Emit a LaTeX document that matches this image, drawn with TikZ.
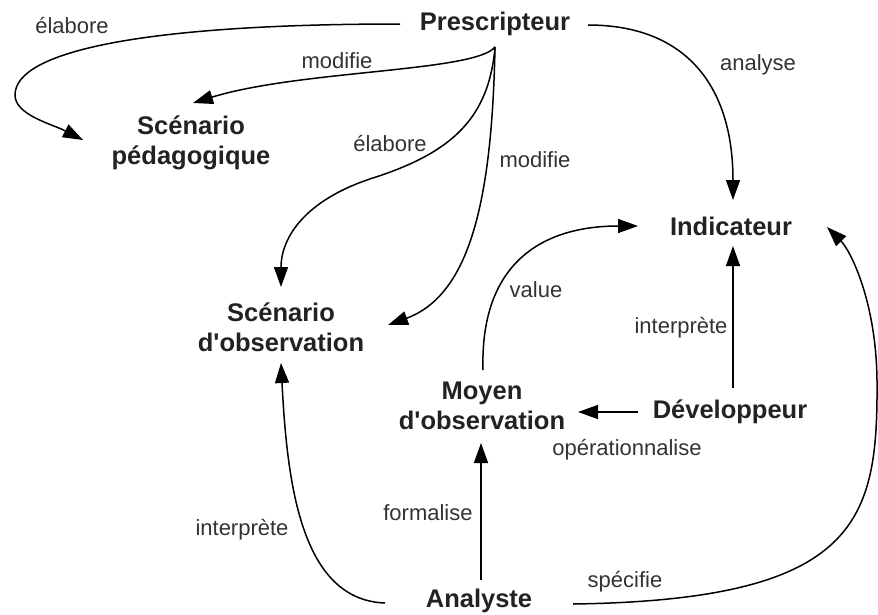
\documentclass[tikz,border=0pt]{standalone}
\usepackage{fontspec}
\setmainfont{Liberation Sans}
\usetikzlibrary{arrows.meta,calc}
\definecolor{nodetext}{HTML}{222222}
\definecolor{labtext}{HTML}{333333}
\begin{document}
\begin{tikzpicture}[x=1pt,y=-1pt,
  ent/.style={inner sep=0pt, align=center, text=nodetext, font=\fontsize{25.5}{30}\selectfont\bfseries},
  lab/.style={inner sep=0pt, text=labtext, font=\fontsize{22}{26}\selectfont},
  link/.style={line width=1.5pt, -{Triangle[length=20pt,width=14pt]}}]
\useasboundingbox (0,0) rectangle (878,614);
\fill[white] (0,0) rectangle (878,614);
% entities
\node[ent] (presc) at (495,24) {Prescripteur};
\node[ent] (scped) at (191,143) {Scénario\\pédagogique};
\node[ent] (scobs) at (281,327) {Scénario\\d\textquotesingle observation};
\node[ent] (indic) at (731,226) {Indicateur};
\node[ent] (moyen) at (482,406) {Moyen\\d\textquotesingle observation};
\node[ent] (dev) at (730,412) {Développeur};
\node[ent] (anal) at (479,601) {Analyste};
% labels
\node[lab] (l1) at (72,26) {élabore};
\node[lab] (l2) at (337,61) {modifie};
\node[lab] (l3) at (390,144) {élabore};
\node[lab] (l4) at (535,160) {modifie};
\node[lab] (l5) at (758,65) {analyse};
\node[lab] (l6) at (536,290) {value};
\node[lab] (l7) at (681,328) {interprète};
\node[lab] (l8) at (627,450) {opérationnalise};
\node[lab] (l9) at (428,513) {formalise};
\node[lab] (l10) at (242,530) {interprète};
\node[lab] (l11) at (625,582) {spécifie};
% connectors
\draw[link] ($(presc)+(-95,0)$) .. controls (150,24) and (15,50) .. (15,95)
   .. controls (15,115) and (52,124) .. ($(scped)+(-108,-3)$);
\draw[link] ($(presc)+(0,23)$) .. controls (475,72) and (300,70) .. ($(scped)+(2,-40)$);
\draw[link] ($(presc)+(0,23)$) .. controls (489,118) and (452,152) .. (376,177)
   .. controls (302,200) and (281,240) .. ($(scobs)+(0,-40)$);
\draw[link] ($(presc)+(0,23)$) .. controls (492,200) and (470,295) .. ($(scobs)+(107,-2)$);
\draw[link] ($(presc)+(93,1)$) .. controls (685,25) and (733,85) .. ($(indic)+(2,-26)$);
\draw[link] ($(moyen)+(1,-36)$) .. controls (480,265) and (540,226) .. ($(indic)+(-93,0)$);
\draw[link] ($(dev)+(3,-24)$) -- ($(indic)+(2,20)$);
\draw[link] ($(dev)+(-92,0)$) -- ($(moyen)+(96,6)$);
\draw[link] ($(anal)+(2,-21)$) -- ($(moyen)+(-1,37)$);
\draw[link] ($(anal)+(-94,2)$) .. controls (300,600) and (287,480) .. ($(scobs)+(0,36)$);
\draw[link] ($(anal)+(94,3)$) .. controls (860,600) and (878,520) .. (877,380)
   .. controls (876,300) and (850,250) .. ($(indic)+(96,1)$);
\end{tikzpicture}
\end{document}
